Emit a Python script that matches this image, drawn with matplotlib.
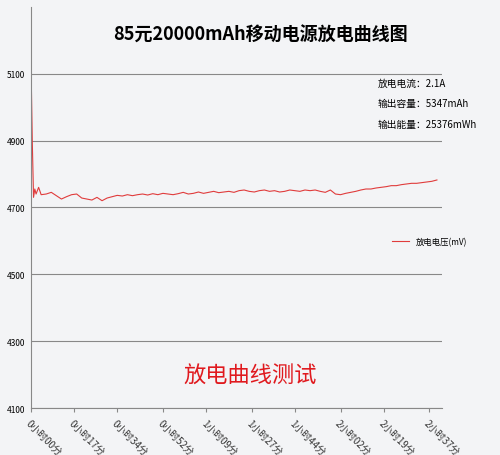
import matplotlib
matplotlib.use("Agg")
import matplotlib.pyplot as plt

plt.rcParams['font.family'] = ['Noto Sans CJK SC', 'DejaVu Sans']

tick_labels = ["0小时00分", "0小时17分", "0小时34分", "0小时52分", "1小时09分",
               "1小时27分", "1小时44分", "2小时02分", "2小时19分", "2小时37分"]
tick_minutes = [0, 17, 34, 52, 69, 87, 104, 122, 139, 157]
minutes = [0, 0.5, 1, 1.5, 2, 3, 4, 6, 8, 10, 12, 14, 16, 18, 20, 22, 24, 26, 28, 30,
           32, 34, 36, 38, 40, 42, 44, 46, 48, 50, 52, 54, 56, 58, 60, 62, 64, 66, 68,
           70, 72, 74, 76, 78, 80, 82, 84, 86, 88, 90, 92, 94, 96, 98, 100, 102, 104,
           106, 108, 110, 112, 114, 116, 118, 120, 122, 124, 126, 128, 130, 132, 134,
           136, 138, 140, 142, 144, 146, 148, 150, 152, 154, 156, 158, 160]
voltage = [5130, 4900, 4730, 4755, 4740, 4760, 4738, 4740, 4745, 4735, 4725, 4732, 4738,
           4740, 4728, 4725, 4722, 4730, 4720, 4728, 4732, 4736, 4734, 4738, 4735, 4738,
           4740, 4737, 4741, 4738, 4742, 4740, 4738, 4741, 4745, 4740, 4742, 4746, 4742,
           4745, 4748, 4744, 4746, 4748, 4745, 4750, 4752, 4748, 4746, 4750, 4752, 4748,
           4750, 4746, 4748, 4752, 4750, 4748, 4752, 4750, 4752, 4748, 4745, 4752, 4740,
           4738, 4742, 4745, 4748, 4752, 4755, 4755, 4758, 4760, 4762, 4765, 4765, 4768,
           4770, 4772, 4772, 4774, 4776, 4778, 4782]

bg = '#f3f4f6'
fig = plt.figure(figsize=(5.0, 4.56), dpi=100, facecolor=bg)
ax = fig.add_axes([0.062, 0.103, 0.822, 0.88])
ax.set_facecolor(bg)
ax.plot(minutes, voltage, color='#e03c3c', lw=0.8, label='放电电压(mV)')
ax.set_xlim(0, 162)
ax.set_ylim(4100, 5300)
ax.set_yticks([4100, 4300, 4500, 4700, 4900, 5100])
ax.tick_params(axis='y', labelsize=6, length=0, pad=4)
ax.set_xticks(tick_minutes)
ax.set_xticklabels(tick_labels, rotation=-45, ha='left', va='top', fontsize=7,
                   rotation_mode='anchor', color='#333333')
ax.tick_params(axis='x', length=3, color='#888888')
ax.grid(axis='y', color='#888888', lw=0.8)
for s in ['top', 'right']:
    ax.spines[s].set_visible(False)
ax.spines['left'].set_color('#888888')
ax.spines['bottom'].set_color('#888888')

fig.text(0.52, 0.91, '85元20000mAh移动电源放电曲线图', ha='center', fontsize=13,
         fontweight='bold')
fig.text(0.755, 0.81, '放电电流：2.1A', fontsize=7)
fig.text(0.755, 0.765, '输出容量：5347mAh', fontsize=7)
fig.text(0.755, 0.72, '输出能量：25376mWh', fontsize=7)
fig.text(0.5, 0.16, '放电曲线测试', ha='center', color='#e0191e', fontsize=16)
ax.legend(loc='upper left', bbox_to_anchor=(0.86, 0.445), frameon=False, fontsize=6,
          handlelength=2)
fig.savefig('out.png', dpi=100, facecolor=bg)
